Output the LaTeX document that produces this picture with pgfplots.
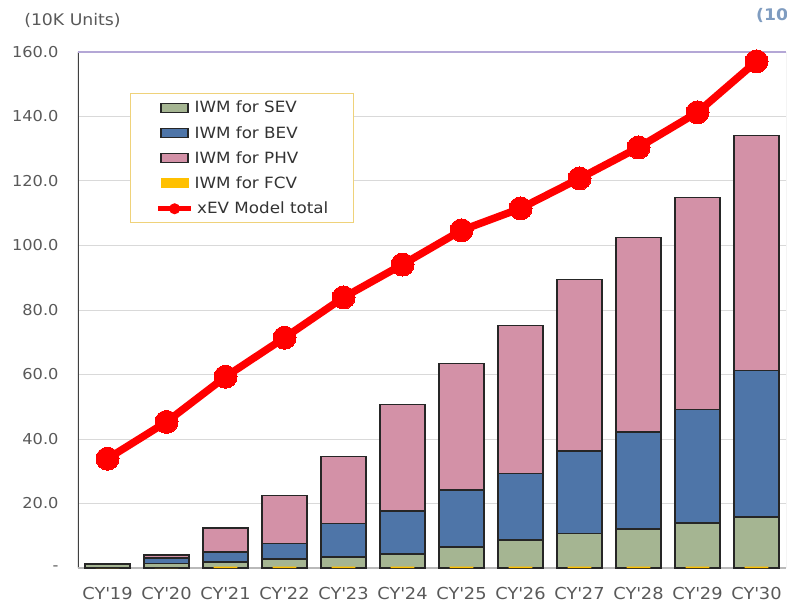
\documentclass[border=0pt]{standalone}
\usepackage{fontspec}
\setmainfont{DejaVu Sans}[FakeStretch=1.08]
\usepackage{pgfplots}
\pgfplotsset{compat=1.18}
\definecolor{sev}{HTML}{A5B592}
\definecolor{bev}{HTML}{4E75A8}
\definecolor{phv}{HTML}{D391A7}
\definecolor{fcv}{HTML}{FFC000}
\definecolor{bord}{HTML}{262626}
\definecolor{tickgray}{HTML}{595959}
\definecolor{gridgray}{HTML}{D9D9D9}
\definecolor{topline}{HTML}{B4A7D6}
\definecolor{unitblue}{HTML}{7F9CC0}
\definecolor{leggold}{HTML}{EFD27A}
\begin{document}
\begin{tikzpicture}
\path[use as bounding box, clip] (0pt,0pt) rectangle (787pt,603pt);
\node[anchor=center, text=tickgray, font=\fontsize{16}{19}\selectfont, inner sep=0pt] at (72.5pt,583pt) {(10K Units)};
\node[anchor=west, text=unitblue, font=\fontsize{16}{19}\selectfont\bfseries, inner sep=0pt] at (756pt,588pt) {(10K Units)};
\begin{axis}[
  at={(78pt,35pt)}, anchor=south west,
  scale only axis, width=708pt, height=516pt,
  xmin=-0.5, xmax=11.5, ymin=0, ymax=160,
  ybar stacked, bar width=0.76,
  axis line style={draw=none},
  major tick length=0pt,
  xtick={0,...,11},
  xticklabels={CY\textquotesingle 19,CY\textquotesingle 20,CY\textquotesingle 21,CY\textquotesingle 22,CY\textquotesingle 23,CY\textquotesingle 24,CY\textquotesingle 25,CY\textquotesingle 26,CY\textquotesingle 27,CY\textquotesingle 28,CY\textquotesingle 29,CY\textquotesingle 30},
  ytick={0,20,...,160},
  yticklabels={-\hspace{7pt},20.0,40.0,60.0,80.0,100.0,120.0,140.0,160.0},
  /pgf/number format/assume math mode=true,
  ymajorgrids, grid style={gridgray, line width=1pt},
  xticklabel style={font=\fontsize{16.5}{19}\selectfont, text=tickgray, yshift=-16pt},
  yticklabel style={font=\fontsize{15}{19}\selectfont, text=tickgray, xshift=-16pt},
  legend style={at={(0.0734,0.9205)}, anchor=north west, draw=leggold, line width=1pt,
    fill=white, font=\fontsize{15.5}{19}\selectfont, text=black!80,
    inner xsep=2pt, inner ysep=6.5pt, row sep=10pt,
    nodes={inner sep=1pt}},
  legend cell align=left,
]
\addplot[fill=sev, draw=bord, line width=1.3pt,
  legend image code/.code={\path (0pt,0pt); \draw[fill=sev, draw=bord, line width=1.3pt] (28pt,-4.5pt) rectangle (55pt,4.5pt);}]
  coordinates {(0,1.1) (1,1.5) (2,1.9) (3,2.8) (4,3.4) (5,4.3) (6,6.5) (7,8.7) (8,10.6) (9,12.1) (10,14.0) (11,15.8)};
\addlegendentry{IWM for SEV}
\addplot[fill=bev, draw=bord, line width=1.3pt,
  legend image code/.code={\path (0pt,0pt); \draw[fill=bev, draw=bord, line width=1.3pt] (28pt,-4.5pt) rectangle (55pt,4.5pt);}]
  coordinates {(0,0) (1,1.6) (2,3.1) (3,4.7) (4,10.3) (5,13.4) (6,17.7) (7,20.5) (8,25.7) (9,30.1) (10,35.1) (11,45.4)};
\addlegendentry{IWM for BEV}
\addplot[fill=phv, draw=bord, line width=1.3pt,
  legend image code/.code={\path (0pt,0pt); \draw[fill=phv, draw=bord, line width=1.3pt] (28pt,-4.5pt) rectangle (55pt,4.5pt);}]
  coordinates {(0,0.1) (1,0.9) (2,7.4) (3,14.9) (4,20.8) (5,32.9) (6,39.2) (7,46.0) (8,53.1) (9,60.3) (10,65.8) (11,73.0)};
\addlegendentry{IWM for PHV}
\addlegendimage{legend image code/.code={\path (0pt,0pt); \fill[fcv] (28pt,-4.5pt) rectangle (55pt,4.5pt);}}
\addlegendentry{IWM for FCV}
\addlegendimage{legend image code/.code={\path (0pt,0pt); \draw[red, line width=5pt] (25pt,0pt) -- (58pt,0pt); \fill[red] (41.5pt,0pt) circle (5pt);}}
\addlegendentry{\,xEV Model total\rule{22pt}{0pt}}
\draw[gray!70, line width=1pt] (rel axis cs:1,0) -- (rel axis cs:1,1);
\draw[gray!55, line width=1.5pt] (rel axis cs:0,0) -- (rel axis cs:1,0);
\draw[topline, line width=1.5pt] (rel axis cs:0,1) -- (rel axis cs:1,1);
\draw[black!75, line width=1.5pt] (rel axis cs:0,0) -- (rel axis cs:0,1);
\end{axis}
\begin{axis}[
  at={(78pt,35pt)}, anchor=south west,
  scale only axis, width=708pt, height=516pt,
  xmin=-0.5, xmax=11.5, ymin=0, ymax=160,
  hide axis, clip=false,
]
\addplot[ybar, bar width=0.4, fill=fcv, draw=none]
  coordinates {(0,0) (1,0) (2,0.45) (3,0.45) (4,0.45) (5,0.45) (6,0.45) (7,0.45) (8,0.45) (9,0.45) (10,0.45) (11,0.45)};
\addplot[red, line width=7.5pt, mark=*, mark size=11.5pt, mark options={fill=red, draw=red, line width=0pt}]
  coordinates {(0,33.9) (1,45.3) (2,59.3) (3,71.4) (4,83.9) (5,94.1) (6,104.7) (7,111.5) (8,120.8) (9,130.4) (10,141.3) (11,157.1)};
\end{axis}
\end{tikzpicture}
\end{document}
